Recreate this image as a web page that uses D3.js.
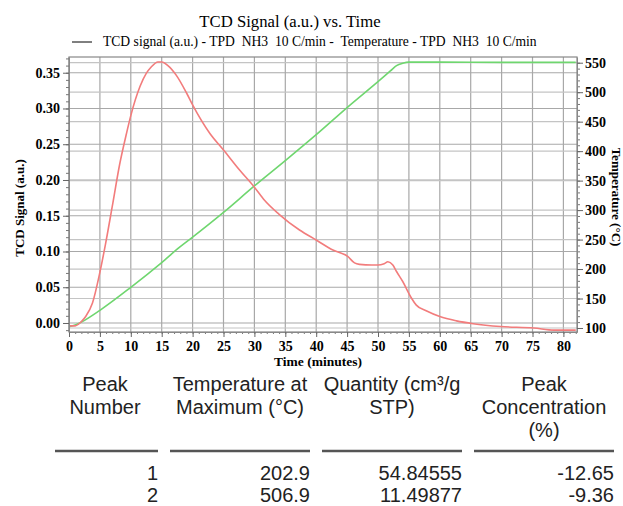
<!DOCTYPE html>
<html>
<head>
<meta charset="utf-8">
<script src="https://cdn.jsdelivr.net/npm/d3@7"></script>
<style>
  body { margin: 0; background: #fff; }
  svg text { fill: #000; }
  .serif { font-family: "Liberation Serif", "Times New Roman", serif; }
  .sans { font-family: "Liberation Sans", Arial, sans-serif; }
</style>
</head>
<body>
<div id="chart"></div>
<script>
// TCD signal (a.u.) vs time (minutes)
var tcdTime  = [0, 1, 2, 2.7, 3.8, 5, 5.9, 7, 8.2, 9.3, 10, 11.5, 12.5, 13.3, 14.4, 15, 16, 17.4, 19, 20, 22.8, 25, 27.6, 30, 31.6, 34, 37.3, 40, 42.7, 45.1, 46.2, 47, 49, 50, 51, 51.6, 52.4, 53, 54, 55.4, 56.2, 57.8, 60, 62.7, 65.4, 69.8, 75.2, 78.5, 82];
var tcdValue = [-0.004, -0.004, 0.002, 0.009, 0.028, 0.071, 0.11, 0.163, 0.222, 0.265, 0.29, 0.331, 0.349, 0.358, 0.365, 0.365, 0.36, 0.346, 0.322, 0.305, 0.265, 0.242, 0.214, 0.19, 0.172, 0.152, 0.13, 0.116, 0.102, 0.093, 0.084, 0.082, 0.081, 0.081, 0.083, 0.0856, 0.081, 0.072, 0.058, 0.035, 0.025, 0.017, 0.009, 0.003, -0.001, -0.005, -0.007, -0.01, -0.01];

// Temperature (°C) vs time (minutes)
var tempTime  = [0, 1, 2, 5, 10, 15, 17.9, 20, 25, 30, 35, 40, 45, 50, 52, 53, 54, 55, 60, 70, 82];
var tempValue = [102, 105, 110, 130, 169, 211, 237, 254, 296, 341, 384, 428, 474, 518, 536, 545, 549, 551, 551, 550.5, 550.5];

// axis ticks
var xTicks = d3.range(0, 81, 5);
var yLeftTicks = [0, 0.05, 0.10, 0.15, 0.20, 0.25, 0.30, 0.35];
var yRightTicks = [100, 150, 200, 250, 300, 350, 400, 450, 500, 550];

// peak table
var tableHeaders = [["Peak", "Number"], ["Temperature at", "Maximum (°C)"], ["Quantity (cm³/g", "STP)"], ["Peak", "Concentration", "(%)"]];
var peakNumbers = ["1", "2"];
var peakTemps = ["202.9", "506.9"];
var peakQuantities = ["54.84555", "11.49877"];
var peakConcentrations = ["-12.65", "-9.36"];

var W = 623, H = 506;
var plot = {left: 69, right: 577, top: 57, bottom: 332};

var svg = d3.select("#chart").append("svg")
  .attr("width", W).attr("height", H);

var x = d3.scaleLinear().domain([0, 82.2]).range([plot.left, plot.right]);
var yL = d3.scaleLinear().domain([-0.0126, 0.372]).range([plot.bottom, plot.top]);
var yR = d3.scaleLinear().domain([93.2, 559.7]).range([plot.bottom, plot.top]);

// grid
var grid = svg.append("g").attr("stroke", "#a8a8a8").attr("stroke-width", 1.2);
grid.selectAll(".vg").data(xTicks).enter().append("line")
  .attr("x1", function(d) { return x(d); }).attr("x2", function(d) { return x(d); })
  .attr("y1", plot.top).attr("y2", plot.bottom);
grid.selectAll(".hl").data(yLeftTicks).enter().append("line")
  .attr("x1", plot.left).attr("x2", plot.right)
  .attr("y1", function(d) { return yL(d); }).attr("y2", function(d) { return yL(d); });
grid.selectAll(".hr").data(yRightTicks).enter().append("line")
  .attr("stroke", "#c4c4c4")
  .attr("x1", plot.left).attr("x2", plot.right)
  .attr("y1", function(d) { return yR(d); }).attr("y2", function(d) { return yR(d); });

// frame
svg.append("rect")
  .attr("x", plot.left).attr("y", plot.top)
  .attr("width", plot.right - plot.left).attr("height", plot.bottom - plot.top)
  .attr("fill", "none").attr("stroke", "#888").attr("stroke-width", 1.2);

// lines
var tcdLine = d3.line()
  .x(function(d, i) { return x(tcdTime[i]); })
  .y(function(d) { return yL(d); })
  .curve(d3.curveMonotoneX);
var tempLine = d3.line()
  .x(function(d, i) { return x(tempTime[i]); })
  .y(function(d) { return yR(d); })
  .curve(d3.curveMonotoneX);

svg.append("path").datum(tempValue)
  .attr("d", tempLine).attr("fill", "none")
  .attr("stroke", "#6fd66f").attr("stroke-width", 1.6);
svg.append("path").datum(tcdValue)
  .attr("d", tcdLine).attr("fill", "none")
  .attr("stroke", "#f27c7c").attr("stroke-width", 1.6);

// axes
function styleAxis(g) {
  g.select(".domain").attr("stroke", "#888");
  g.selectAll(".tick line").attr("stroke", "#666");
  g.selectAll("text").attr("class", "serif")
    .style("font-size", "14px").style("font-weight", "bold");
}

var xMinor = svg.append("g").attr("transform", "translate(0," + plot.bottom + ")")
  .call(d3.axisBottom(x).tickValues(d3.range(0, 83, 1)).tickSize(2).tickFormat(""));
xMinor.select(".domain").remove();
xMinor.selectAll("line").attr("stroke", "#777");
svg.append("g").attr("transform", "translate(0," + plot.bottom + ")")
  .call(d3.axisBottom(x).tickValues(xTicks).tickSize(5).tickSizeOuter(0).tickPadding(4))
  .call(styleAxis);

var yLMinor = svg.append("g").attr("transform", "translate(" + plot.left + ",0)")
  .call(d3.axisLeft(yL).tickValues(d3.range(-0.01, 0.371, 0.01)).tickSize(3).tickFormat(""));
yLMinor.select(".domain").remove();
yLMinor.selectAll("line").attr("stroke", "#777");
svg.append("g").attr("transform", "translate(" + plot.left + ",0)")
  .call(d3.axisLeft(yL).tickValues(yLeftTicks).tickSize(6).tickSizeOuter(0).tickPadding(3).tickFormat(d3.format(".2f")))
  .call(styleAxis);

var yRMinor = svg.append("g").attr("transform", "translate(" + plot.right + ",0)")
  .call(d3.axisRight(yR).tickValues(d3.range(100, 560, 10)).tickSize(3).tickFormat(""));
yRMinor.select(".domain").remove();
yRMinor.selectAll("line").attr("stroke", "#777");
svg.append("g").attr("transform", "translate(" + plot.right + ",0)")
  .call(d3.axisRight(yR).tickValues(yRightTicks).tickSize(6).tickSizeOuter(0).tickPadding(2))
  .call(styleAxis);

// titles
svg.append("text").attr("class", "serif")
  .attr("x", 290).attr("y", 27).attr("text-anchor", "middle")
  .style("font-size", "16.7px")
  .text("TCD Signal (a.u.) vs. Time");

svg.append("line").attr("x1", 72).attr("x2", 92).attr("y1", 42).attr("y2", 42)
  .attr("stroke", "#000").attr("stroke-width", 1);
svg.append("text").attr("class", "serif")
  .attr("x", 103).attr("y", 46)
  .style("font-size", "13.6px")
  .attr("xml:space", "preserve")
  .text("TCD signal (a.u.) - TPD  NH3  10 C/min -  Temperature - TPD  NH3  10 C/min");

svg.append("text").attr("class", "serif")
  .attr("transform", "translate(24," + 208 + ") rotate(-90)")
  .attr("text-anchor", "middle")
  .style("font-size", "13px").style("font-weight", "bold")
  .text("TCD Signal (a.u.)");

svg.append("text").attr("class", "serif")
  .attr("transform", "translate(612," + 197 + ") rotate(90)")
  .attr("text-anchor", "middle")
  .style("font-size", "13px").style("font-weight", "bold")
  .text("Temperature (°C)");

svg.append("text").attr("class", "serif")
  .attr("x", 318).attr("y", 366).attr("text-anchor", "middle")
  .style("font-size", "13.5px").style("font-weight", "bold")
  .text("Time (minutes)");

// table
var headCenters = [105, 240, 392, 544];
var rowY = [391, 414, 437];
tableHeaders.forEach(function(lines, c) {
  lines.forEach(function(t, r) {
    svg.append("text").attr("class", "sans")
      .attr("x", headCenters[c]).attr("y", rowY[r])
      .attr("text-anchor", "middle")
      .style("font-size", "20px").style("fill", "#222")
      .text(t);
  });
});

var rules = [[55, 158], [170, 310], [322, 462], [474, 614]];
svg.selectAll(".rule").data(rules).enter().append("line")
  .attr("x1", function(d) { return d[0]; }).attr("x2", function(d) { return d[1]; })
  .attr("y1", 451).attr("y2", 451)
  .attr("stroke", "#555").attr("stroke-width", 2.5);

var colRight = [158, 310, 462, 614];
var cols = [peakNumbers, peakTemps, peakQuantities, peakConcentrations];
var dataY = [480, 502];
cols.forEach(function(col, c) {
  col.forEach(function(t, r) {
    svg.append("text").attr("class", "sans")
      .attr("x", colRight[c]).attr("y", dataY[r])
      .attr("text-anchor", "end")
      .style("font-size", "20px").style("fill", "#222")
      .text(t);
  });
});
</script>
</body>
</html>
